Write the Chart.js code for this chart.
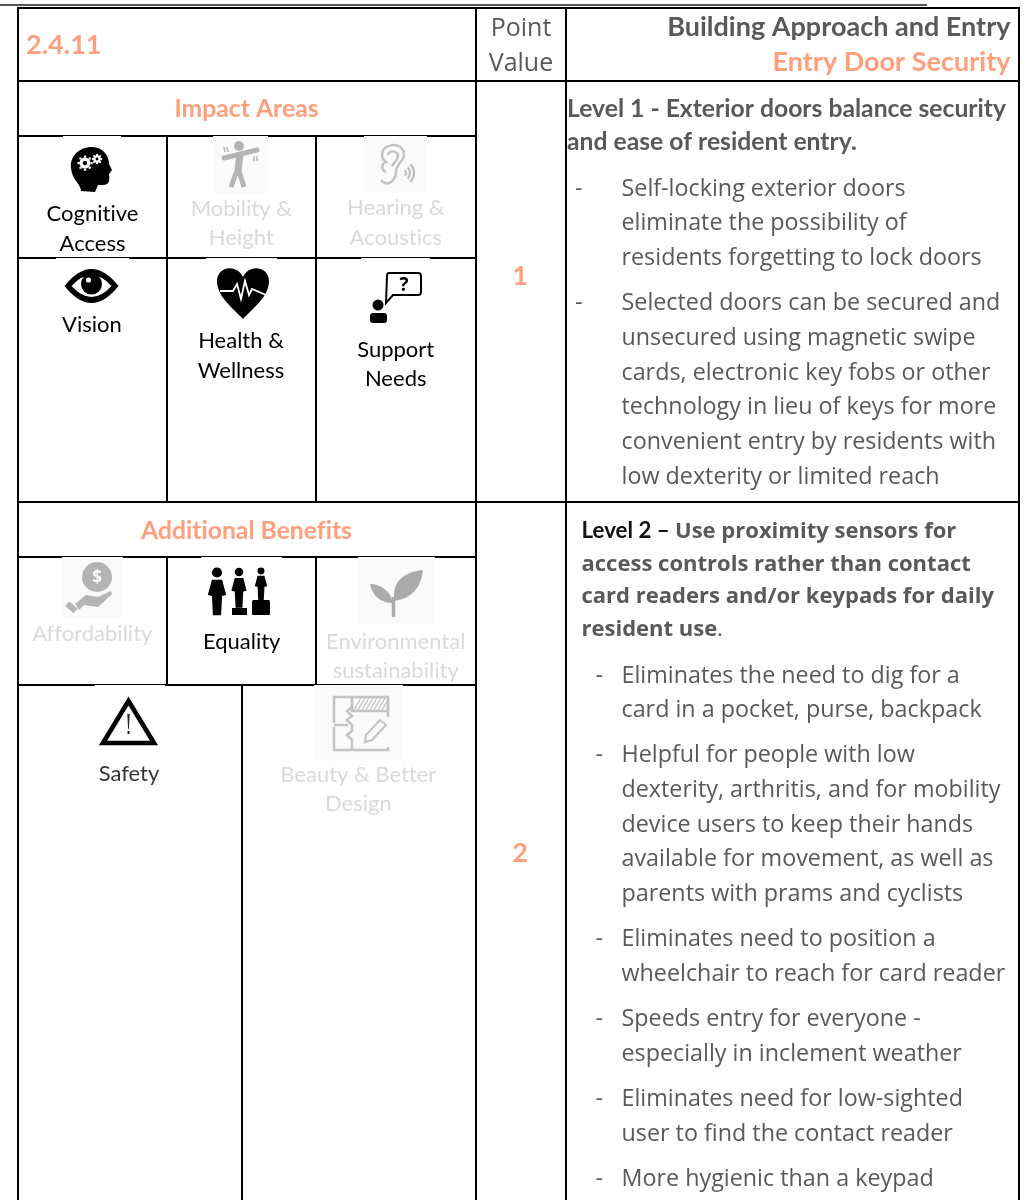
<!DOCTYPE html>
<html>
<head>
<meta charset="utf-8">
<title>Entry Door Security</title>
<style>
  html, body { margin: 0; padding: 0; background: #fff; }
  canvas { display: block; }
</style>
<script src="https://cdn.jsdelivr.net/npm/chart.js@4/dist/chart.umd.js"></script>
</head>
<body>
<canvas id="sheet" width="1029" height="1200"></canvas>
<script>
// text of the sheet
const sectionCode = ["2.4.11"];
const pointHeading = ["Point", "Value"];
const buildingTitle = ["Building Approach and Entry"];
const entryTitle = ["Entry Door Security"];
const impactTitle = ["Impact Areas"];
const benefitsTitle = ["Additional Benefits"];
const pointOne = ["1"];
const pointTwo = ["2"];
const levelOneHead = ["Level 1 - Exterior doors balance security", "and ease of resident entry."];
const levelOneBullets = [
  ["Self-locking exterior doors", "eliminate the possibility of", "residents forgetting to lock doors"],
  ["Selected doors can be secured and", "unsecured using magnetic swipe", "cards, electronic key fobs or other", "technology in lieu of keys for more", "convenient entry by residents with", "low dexterity or limited reach"]
];
const levelTwoLead = ["Level 2 \u2013"];
const levelTwoHead = ["Use proximity sensors for", "access controls rather than contact", "card readers and/or keypads for daily", "resident use"];
const levelTwoBullets = [
  ["Eliminates the need to dig for a", "card in a pocket, purse, backpack"],
  ["Helpful for people with low", "dexterity, arthritis, and for mobility", "device users to keep their hands", "available for movement, as well as", "parents with prams and cyclists"],
  ["Eliminates need to position a", "wheelchair to reach for card reader"],
  ["Speeds entry for everyone -", "especially in inclement weather"],
  ["Eliminates need for low-sighted", "user to find the contact reader"],
  ["More hygienic than a keypad"]
];
const areaLabels = [["Cognitive", "Access"], ["Mobility &", "Height"], ["Hearing &", "Acoustics"], ["Vision"], ["Health &", "Wellness"], ["Support", "Needs"]];
const benefitLabels = [["Affordability"], ["Equality"], ["Environmental", "sustainability"], ["Safety"], ["Beauty & Better", "Design"]];

// table rules, in sheet units
const fullCols = [18, 476, 566, 1019];
const leftCols = [167, 316];
const rowRules = [81, 502];
const leftRows = [136, 258, 557, 685];

const orange = "#ff9f7c";
const ink = "#595959";
const faded = "#d9d9d9";
const iconGrey = "#b4b4b4";

const fonts = {
  head: "bold 27px Lato",
  area: "bold 24.7px Lato",
  level: "bold 24.7px Lato",
  level2: "bold 22px 'Open Sans'",
  lead: "bold 22.3px Lato",
  body: "23.3px 'Open Sans'",
  label: "22px Lato"
};

function makeIcon(w, h, bg, dx, dy, paint) {
  const c = document.createElement("canvas");
  c.width = w;
  c.height = h;
  const g = c.getContext("2d");
  if (bg) {
    g.fillStyle = bg;
    g.fillRect(0, 0, w, h);
  }
  g.translate(dx, dy);
  paint(g);
  return c;
}

function gear(g, x, y, r) {
  g.fillStyle = "#fff";
  for (let i = 0; i < 8; i++) {
    const a = i * Math.PI / 4;
    g.fillRect(x + Math.cos(a) * r - 1, y + Math.sin(a) * r - 1, 2.2, 2.2);
  }
  g.beginPath();
  g.arc(x, y, r * 0.85, 0, Math.PI * 2);
  g.fill();
  g.fillStyle = "#000";
  g.beginPath();
  g.arc(x, y, r * 0.35, 0, Math.PI * 2);
  g.fill();
}

const brainIcon = makeIcon(58, 60, "#fff", 4, 8, (g) => {
  g.fillStyle = "#000";
  g.beginPath();
  g.moveTo(14, 47);
  g.bezierCurveTo(14, 40, 5, 36, 4, 24);
  g.bezierCurveTo(3, 12, 12, 3, 25, 3);
  g.bezierCurveTo(36, 3, 42, 12, 42, 20);
  g.lineTo(45, 26);
  g.lineTo(42, 30);
  g.bezierCurveTo(43, 37, 42, 41, 36, 41);
  g.lineTo(31, 41);
  g.lineTo(28, 48);
  g.closePath();
  g.fill();
  gear(g, 18, 19, 6.5);
  gear(g, 30, 15, 4);
});

const mobilityIcon = makeIcon(55, 57, "#fafafa", 0, 0, (g) => {
  g.fillStyle = iconGrey;
  g.strokeStyle = iconGrey;
  g.beginPath();
  g.arc(26, 10, 5, 0, Math.PI * 2);
  g.fill();
  g.lineWidth = 5;
  g.lineCap = "round";
  g.beginPath();
  g.moveTo(11, 22);
  g.lineTo(44, 14);
  g.stroke();
  g.lineWidth = 7;
  g.lineCap = "butt";
  g.beginPath();
  g.moveTo(27, 18);
  g.lineTo(25, 34);
  g.stroke();
  g.lineWidth = 5;
  g.beginPath();
  g.moveTo(25, 32);
  g.lineTo(18, 51);
  g.moveTo(25, 32);
  g.lineTo(31, 51);
  g.stroke();
  g.lineWidth = 1.5;
  g.beginPath();
  g.moveTo(11, 11);
  g.lineTo(12, 16);
  g.moveTo(14, 11);
  g.lineTo(15, 16);
  g.moveTo(41, 20);
  g.lineTo(41, 25);
  g.moveTo(44, 20);
  g.lineTo(44, 25);
  g.stroke();
});

const earIcon = makeIcon(63, 56, "#fafafa", 0, 0, (g) => {
  g.strokeStyle = "#c2c2c2";
  g.lineWidth = 2.4;
  g.beginPath();
  g.moveTo(17, 44);
  g.bezierCurveTo(24, 52, 32, 44, 32, 36);
  g.bezierCurveTo(32, 28, 41, 24, 40, 18);
  g.bezierCurveTo(39, 9, 30, 8, 25, 10);
  g.bezierCurveTo(17, 12, 16, 22, 22, 26);
  g.bezierCurveTo(17, 28, 17, 34, 22, 36);
  g.stroke();
  g.beginPath();
  g.moveTo(24, 19);
  g.bezierCurveTo(25, 14, 33, 14, 34, 20);
  g.bezierCurveTo(34, 24, 30, 26, 28, 30);
  g.stroke();
  [4, 8, 12].forEach((r) => {
    g.beginPath();
    g.arc(38, 37, r, -0.8, 0.8);
    g.stroke();
  });
});

const eyeIcon = makeIcon(73, 54, "#fff", 6.5, 8, (g) => {
  g.fillStyle = "#000";
  g.beginPath();
  g.moveTo(2, 20);
  g.quadraticCurveTo(29, -14, 56, 20);
  g.quadraticCurveTo(29, 54, 2, 20);
  g.fill();
  g.fillStyle = "#fff";
  g.beginPath();
  g.moveTo(9, 20);
  g.quadraticCurveTo(29, -2, 49, 20);
  g.quadraticCurveTo(29, 42, 9, 20);
  g.fill();
  g.fillStyle = "#000";
  g.beginPath();
  g.arc(29, 18, 10.5, 0, Math.PI * 2);
  g.fill();
  g.fillStyle = "#fff";
  g.beginPath();
  g.arc(26, 14, 2.6, 0, Math.PI * 2);
  g.fill();
});

const heartIcon = makeIcon(71, 64, "#fff", 8, 7, (g) => {
  g.fillStyle = "#000";
  g.beginPath();
  g.moveTo(29, 54);
  g.bezierCurveTo(20, 44, 3, 32, 3, 16);
  g.bezierCurveTo(3, 2, 22, -2, 29, 12);
  g.bezierCurveTo(36, -2, 55, 2, 55, 16);
  g.bezierCurveTo(55, 32, 38, 44, 29, 54);
  g.fill();
  g.strokeStyle = "#fff";
  g.lineWidth = 1.8;
  g.beginPath();
  g.moveTo(6, 26);
  g.lineTo(19, 26);
  g.lineTo(23, 19);
  g.lineTo(27, 34);
  g.lineTo(31, 16);
  g.lineTo(35, 30);
  g.lineTo(38, 24);
  g.lineTo(52, 30);
  g.stroke();
});

const supportIcon = makeIcon(69, 72, "#fff", 7, 11, (g) => {
  g.strokeStyle = "#000";
  g.fillStyle = "#000";
  g.lineWidth = 2;
  g.beginPath();
  g.moveTo(21, 4);
  g.lineTo(50, 4);
  g.quadraticCurveTo(53, 4, 53, 7);
  g.lineTo(53, 23);
  g.quadraticCurveTo(53, 26, 50, 26);
  g.lineTo(25, 26);
  g.lineTo(18, 34);
  g.lineTo(19, 7);
  g.quadraticCurveTo(19, 4, 21, 4);
  g.stroke();
  g.font = "bold 19px 'Open Sans'";
  g.textAlign = "center";
  g.fillText("?", 36, 22);
  g.beginPath();
  g.arc(10, 36, 5.5, 0, Math.PI * 2);
  g.fill();
  g.beginPath();
  g.roundRect(2, 44, 17, 10, 3);
  g.fill();
});

const affordIcon = makeIcon(61, 60, "#fafafa", 0, 0, (g) => {
  g.fillStyle = iconGrey;
  g.beginPath();
  g.arc(35, 20, 15, 0, Math.PI * 2);
  g.fill();
  g.fillStyle = "#fafafa";
  g.font = "bold 17px 'Open Sans'";
  g.textAlign = "center";
  g.fillText("$", 35, 26);
  g.fillStyle = iconGrey;
  g.beginPath();
  g.moveTo(13, 47);
  g.lineTo(24, 38);
  g.lineTo(36, 40);
  g.lineTo(49, 34);
  g.lineTo(50, 37);
  g.lineTo(36, 50);
  g.lineTo(22, 48);
  g.lineTo(17, 53);
  g.closePath();
  g.fill();
  g.save();
  g.translate(9, 50);
  g.rotate(0.7);
  g.fillRect(-5, -3, 11, 6);
  g.restore();
});

const equalityIcon = makeIcon(81, 60, "#fff", 0, 0, (g) => {
  g.fillStyle = "#000";
  const person = (x, h, s) => {
    g.beginPath();
    g.arc(x, h, 5 * s, 0, Math.PI * 2);
    g.fill();
    g.beginPath();
    g.moveTo(x - 5 * s, h + 7 * s);
    g.lineTo(x + 5 * s, h + 7 * s);
    g.lineTo(x + 9 * s, h + 22 * s);
    g.lineTo(x + 5 * s, h + 23 * s);
    g.lineTo(x + 4 * s, h + 42 * s);
    g.lineTo(x - 4 * s, h + 42 * s);
    g.lineTo(x - 5 * s, h + 23 * s);
    g.lineTo(x - 9 * s, h + 22 * s);
    g.closePath();
    g.fill();
  };
  person(16, 15.5, 1.02);
  person(38, 15, 0.85);
  person(60, 14, 0.69);
  g.fillRect(31, 51, 15, 7);
  g.beginPath();
  g.roundRect(51, 43, 18, 15, 1.5);
  g.fill();
});

const plantIcon = makeIcon(77, 67, "#fafafa", 0, 0, (g) => {
  g.fillStyle = "#ababab";
  g.beginPath();
  g.moveTo(36, 44);
  g.bezierCurveTo(34, 26, 44, 15, 65, 13);
  g.bezierCurveTo(63, 32, 52, 42, 36, 44);
  g.fill();
  g.beginPath();
  g.moveTo(35, 46);
  g.bezierCurveTo(33, 34, 22, 27, 12, 27);
  g.bezierCurveTo(14, 38, 22, 46, 35, 46);
  g.fill();
  g.strokeStyle = "#ababab";
  g.lineWidth = 3.5;
  g.beginPath();
  g.moveTo(35.5, 60);
  g.lineTo(35.5, 40);
  g.stroke();
});

const warningIcon = makeIcon(70, 66, "#fff", 0, 0, (g) => {
  g.strokeStyle = "#000";
  g.lineWidth = 4.6;
  g.lineJoin = "miter";
  g.beginPath();
  g.moveTo(33.5, 16);
  g.lineTo(59, 58);
  g.lineTo(8, 58);
  g.closePath();
  g.stroke();
  g.fillStyle = "#222";
  g.beginPath();
  g.moveTo(32.3, 29);
  g.lineTo(34.7, 29);
  g.lineTo(33.9, 44);
  g.lineTo(33.1, 44);
  g.fill();
  g.fillRect(32.5, 46, 2, 3);
});

const beautyIcon = makeIcon(89, 75, "#fafafa", 0, 0, (g) => {
  g.strokeStyle = "#c4c4c4";
  g.lineWidth = 2.5;
  g.beginPath();
  g.moveTo(38, 12);
  g.lineTo(20, 12);
  g.lineTo(20, 38);
  g.moveTo(20, 42);
  g.lineTo(20, 65);
  g.lineTo(74, 65);
  g.lineTo(74, 62);
  g.moveTo(74, 12);
  g.lineTo(74, 32);
  g.moveTo(20, 40);
  g.lineTo(34, 40);
  g.moveTo(38, 12);
  g.lineTo(38, 22);
  g.lineTo(33, 26);
  g.lineTo(38, 31);
  g.lineTo(33, 35);
  g.lineTo(38, 40);
  g.lineTo(38, 46);
  g.lineTo(33, 50);
  g.lineTo(38, 55);
  g.lineTo(38, 65);
  g.stroke();
  g.strokeRect(38, 12, 36, 14);
  g.lineWidth = 1.4;
  for (let x = 40; x < 70; x += 4) {
    g.beginPath();
    g.moveTo(x, 25);
    g.lineTo(x + 7, 13);
    g.stroke();
  }
  g.lineWidth = 2;
  g.beginPath();
  g.moveTo(51, 57);
  g.lineTo(52, 50);
  g.lineTo(66, 35);
  g.lineTo(72, 40);
  g.lineTo(58, 55);
  g.closePath();
  g.stroke();
});

const iconStyles = [brainIcon, mobilityIcon, earIcon, eyeIcon, heartIcon, supportIcon, affordIcon, equalityIcon, plantIcon, warningIcon, beautyIcon];
const iconX = [92, 240.5, 395.5, 92.5, 241.5, 395.5, 92.5, 241.5, 396.5, 130, 358.5];
const iconY = [166, 164.5, 164, 285, 290, 294, 587, 587, 590.5, 718, 722.5];

// writes lines down from a first baseline, through the chart scales
function writeLines(chart, lines, x, y, step, align, font, color) {
  const g = chart.ctx;
  const sx = chart.scales.x;
  const sy = chart.scales.y;
  g.font = font;
  g.fillStyle = color;
  g.textAlign = align;
  g.textBaseline = "alphabetic";
  g.letterSpacing = "0.01px";
  lines.forEach((line, i) => {
    g.fillText(line, sx.getPixelForValue(x), sy.getPixelForValue(y + i * step));
  });
}

function writeBullets(chart, groups, dashX, textX, starts) {
  groups.forEach((group, i) => {
    writeLines(chart, ["-"], dashX, starts[i], 0, "left", fonts.body, ink);
    writeLines(chart, group, textX, starts[i], 34.8, "left", fonts.body, ink);
  });
}

const sheetText = {
  id: "sheetText",
  afterDatasetsDraw(chart) {
    writeLines(chart, sectionCode, 26, 53.5, 0, "left", fonts.head, orange);
    writeLines(chart, pointHeading, 521, 36, 35, "center", "25px 'Open Sans'", ink);
    writeLines(chart, buildingTitle, 1010.5, 36, 0, "right", fonts.head, ink);
    writeLines(chart, entryTitle, 1010.5, 71, 0, "right", fonts.head, orange);
    writeLines(chart, impactTitle, 246.5, 117, 0, "center", fonts.area, orange);
    writeLines(chart, benefitsTitle, 246.5, 539, 0, "center", fonts.area, orange);
    writeLines(chart, pointOne, 520, 285, 0, "center", fonts.head, orange);
    writeLines(chart, pointTwo, 520, 862, 0, "center", fonts.head, orange);

    writeLines(chart, levelOneHead, 567, 117, 33, "left", fonts.level, ink);
    writeBullets(chart, levelOneBullets, 575, 621.5, [195.5, 310]);

    writeLines(chart, levelTwoLead, 581.5, 538, 0, "left", fonts.lead, "#111");
    writeLines(chart, levelTwoHead.slice(0, 1), 675, 538, 0, "left", fonts.level2, ink);
    writeLines(chart, levelTwoHead.slice(1), 581.5, 570.5, 32.6, "left", fonts.level2, ink);
    writeLines(chart, ["."], 717, 636, 0, "left", "22px 'Open Sans'", ink);
    writeBullets(chart, levelTwoBullets, 595.5, 621.5, [682.5, 762, 946, 1026, 1106, 1186]);

    const areaSpots = [[92.5, 220.7, 30, "#000"], [241.3, 216, 29, faded], [395.8, 215, 30, faded], [92, 332, 0, "#000"], [241, 348, 30, "#000"], [395.7, 357, 29, "#000"]];
    areaLabels.forEach((lines, i) => {
      writeLines(chart, lines, areaSpots[i][0], areaSpots[i][1], areaSpots[i][2], "center", fonts.label, areaSpots[i][3]);
    });
    const benefitSpots = [[92.3, 641, faded], [241.7, 649, "#000"], [395.7, 649, faded], [129, 781, "#333"], [358.3, 782, faded]];
    benefitLabels.forEach((lines, i) => {
      writeLines(chart, lines, benefitSpots[i][0], benefitSpots[i][1], 29, "center", fonts.label, benefitSpots[i][2]);
    });
  }
};

const rule = (pts, color) => ({
  data: pts.map((p) => ({ x: p[0], y: p[1] })),
  showLine: true,
  borderColor: color || "#000",
  borderWidth: 2,
  pointRadius: 0,
  clip: false,
  order: 2
});

const datasets = [];
datasets.push({
  data: iconX.map((x, i) => ({ x: x, y: iconY[i] })),
  showLine: false,
  pointRadius: 1,
  pointStyle: iconStyles,
  clip: false,
  order: 1
});
fullCols.forEach((x) => datasets.push(rule([[x, 7], [x, 1200]])));
leftCols.forEach((x) => datasets.push(rule([[x, 136], [x, 502]])));
leftCols.forEach((x) => datasets.push(rule([[x, 557], [x, 685]])));
datasets.push(rule([[242, 685], [242, 1200]]));
rowRules.forEach((y) => datasets.push(rule([[18, y], [1019, y]])));
leftRows.forEach((y) => datasets.push(rule([[18, y], [476, y]])));
datasets.push(rule([[17, 8], [1020, 8]]));
datasets.push(rule([[0, 5], [927, 5]], "#555"));

const sheet = new Chart(document.getElementById("sheet"), {
  type: "scatter",
  data: { datasets: datasets },
  plugins: [sheetText],
  options: {
    responsive: false,
    animation: false,
    layout: { padding: 0 },
    plugins: { legend: { display: false }, tooltip: { enabled: false } },
    scales: {
      x: { type: "linear", min: 0, max: 1029, display: false },
      y: { type: "linear", min: 0, max: 1200, reverse: true, display: false }
    }
  }
});

// chart area is inset a little for the points, so make one unit one pixel
const area = sheet.chartArea;
sheet.options.scales.x.min = area.left;
sheet.options.scales.x.max = area.right;
sheet.options.scales.y.min = area.top;
sheet.options.scales.y.max = area.bottom;
sheet.update();
</script>
</body>
</html>
